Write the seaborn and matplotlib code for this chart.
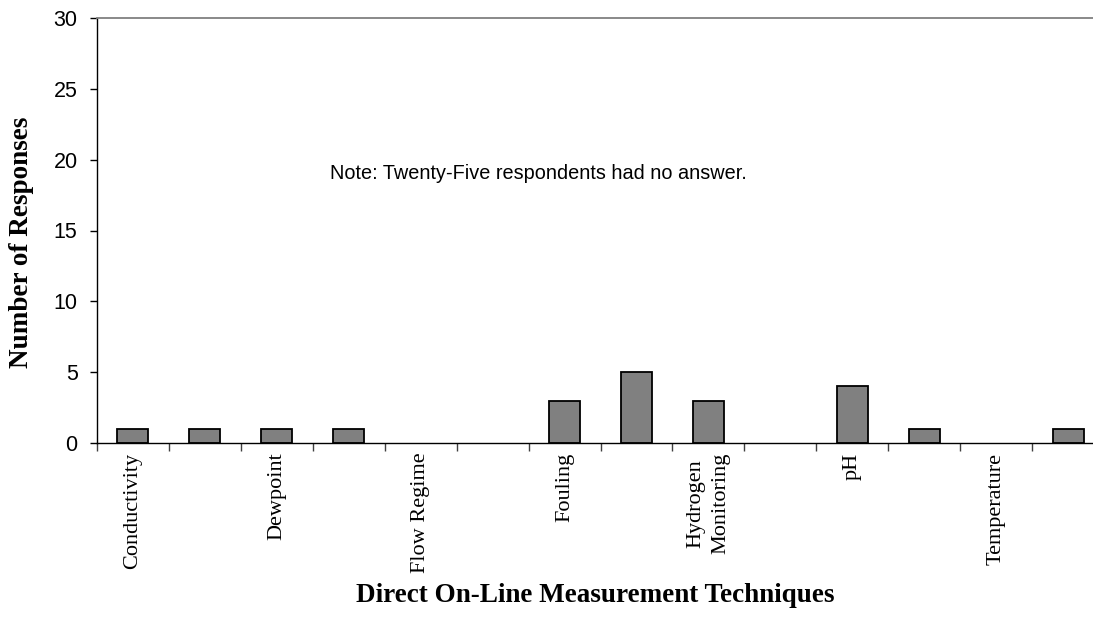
import matplotlib
matplotlib.use("Agg")
import matplotlib.pyplot as plt
import seaborn as sns
import numpy as np

# Survey responses per direct on-line measurement technique
slots = list(range(14))
responses = [1, 1, 1, 1, 0, 0, 3, 5, 3, 0, 4, 1, 0, 1]
tick_labels = ["Conductivity", "", "Dewpoint", "", "Flow Regime", "",
               "Fouling", "", "Hydrogen\nMonitoring", "", "pH", "",
               "Temperature", ""]
y_ticks = [0, 5, 10, 15, 20, 25, 30]
note = "Note: Twenty-Five respondents had no answer."

sns.set_style("white")
plt.rcParams["font.family"] = ["Liberation Sans", "DejaVu Sans"]
plt.rcParams["text.color"] = "black"
plt.rcParams["xtick.color"] = "black"
plt.rcParams["ytick.color"] = "black"

fig = plt.figure(figsize=(10.93, 6.33), dpi=100)
ax = fig.add_axes([97 / 1093, 1 - 443 / 633, 1007 / 1093, 425 / 633])

sns.barplot(x=slots, y=responses, ax=ax, color="#808080", saturation=1,
            width=0.43, edgecolor="black", linewidth=1.3)
# empty categories carry no visible bar
for patch in ax.patches:
    if patch.get_height() == 0:
        patch.set_linewidth(0)

ax.set_xlim(-0.5, 13.5)
ax.set_ylim(0, 30)
ax.set_yticks(y_ticks)
ax.set_yticklabels([str(v) for v in y_ticks], fontsize=15.5,
                   family="Liberation Sans", color="black")

# Boundary ticks between categories, labels centred under each category
ax.set_xticks(np.arange(-0.5, 14, 1.0))
ax.set_xticklabels([])
ax.set_xticks(slots, minor=True)
ax.set_xticklabels(tick_labels, minor=True, rotation=90, fontsize=16,
                   family="Liberation Serif", va="top", ha="center",
                   multialignment="center", linespacing=1.45,
                   color="black")
ax.tick_params(axis="x", which="major", direction="out", length=6,
               width=1, color="#404040", bottom=True)
ax.tick_params(axis="x", which="minor", length=0, pad=7)
ax.tick_params(axis="y", direction="out", length=5, width=1,
               color="black", left=True, pad=9)

for side in ["left", "bottom"]:
    ax.spines[side].set_color("black")
    ax.spines[side].set_linewidth(1.0)
ax.spines["top"].set_color("#808080")
ax.spines["top"].set_linewidth(1.3)
ax.spines["right"].set_visible(False)

ax.set_ylabel("")
fig.text(22 / 1093, 1 - 242 / 633, "Number of Responses", rotation=90,
         ha="center", va="center", fontsize=19.5, fontweight="bold",
         family="Liberation Serif", color="black")
fig.text(595 / 1093, 1 - 596 / 633, "Direct On-Line Measurement Techniques",
         ha="center", va="center", fontsize=19.5, fontweight="bold",
         family="Liberation Serif", color="black")

ax.text(2.74, 19.0, note, ha="left", va="center", fontsize=14.3,
        family="Liberation Sans", color="black")

fig.savefig("out.png", dpi=100)
